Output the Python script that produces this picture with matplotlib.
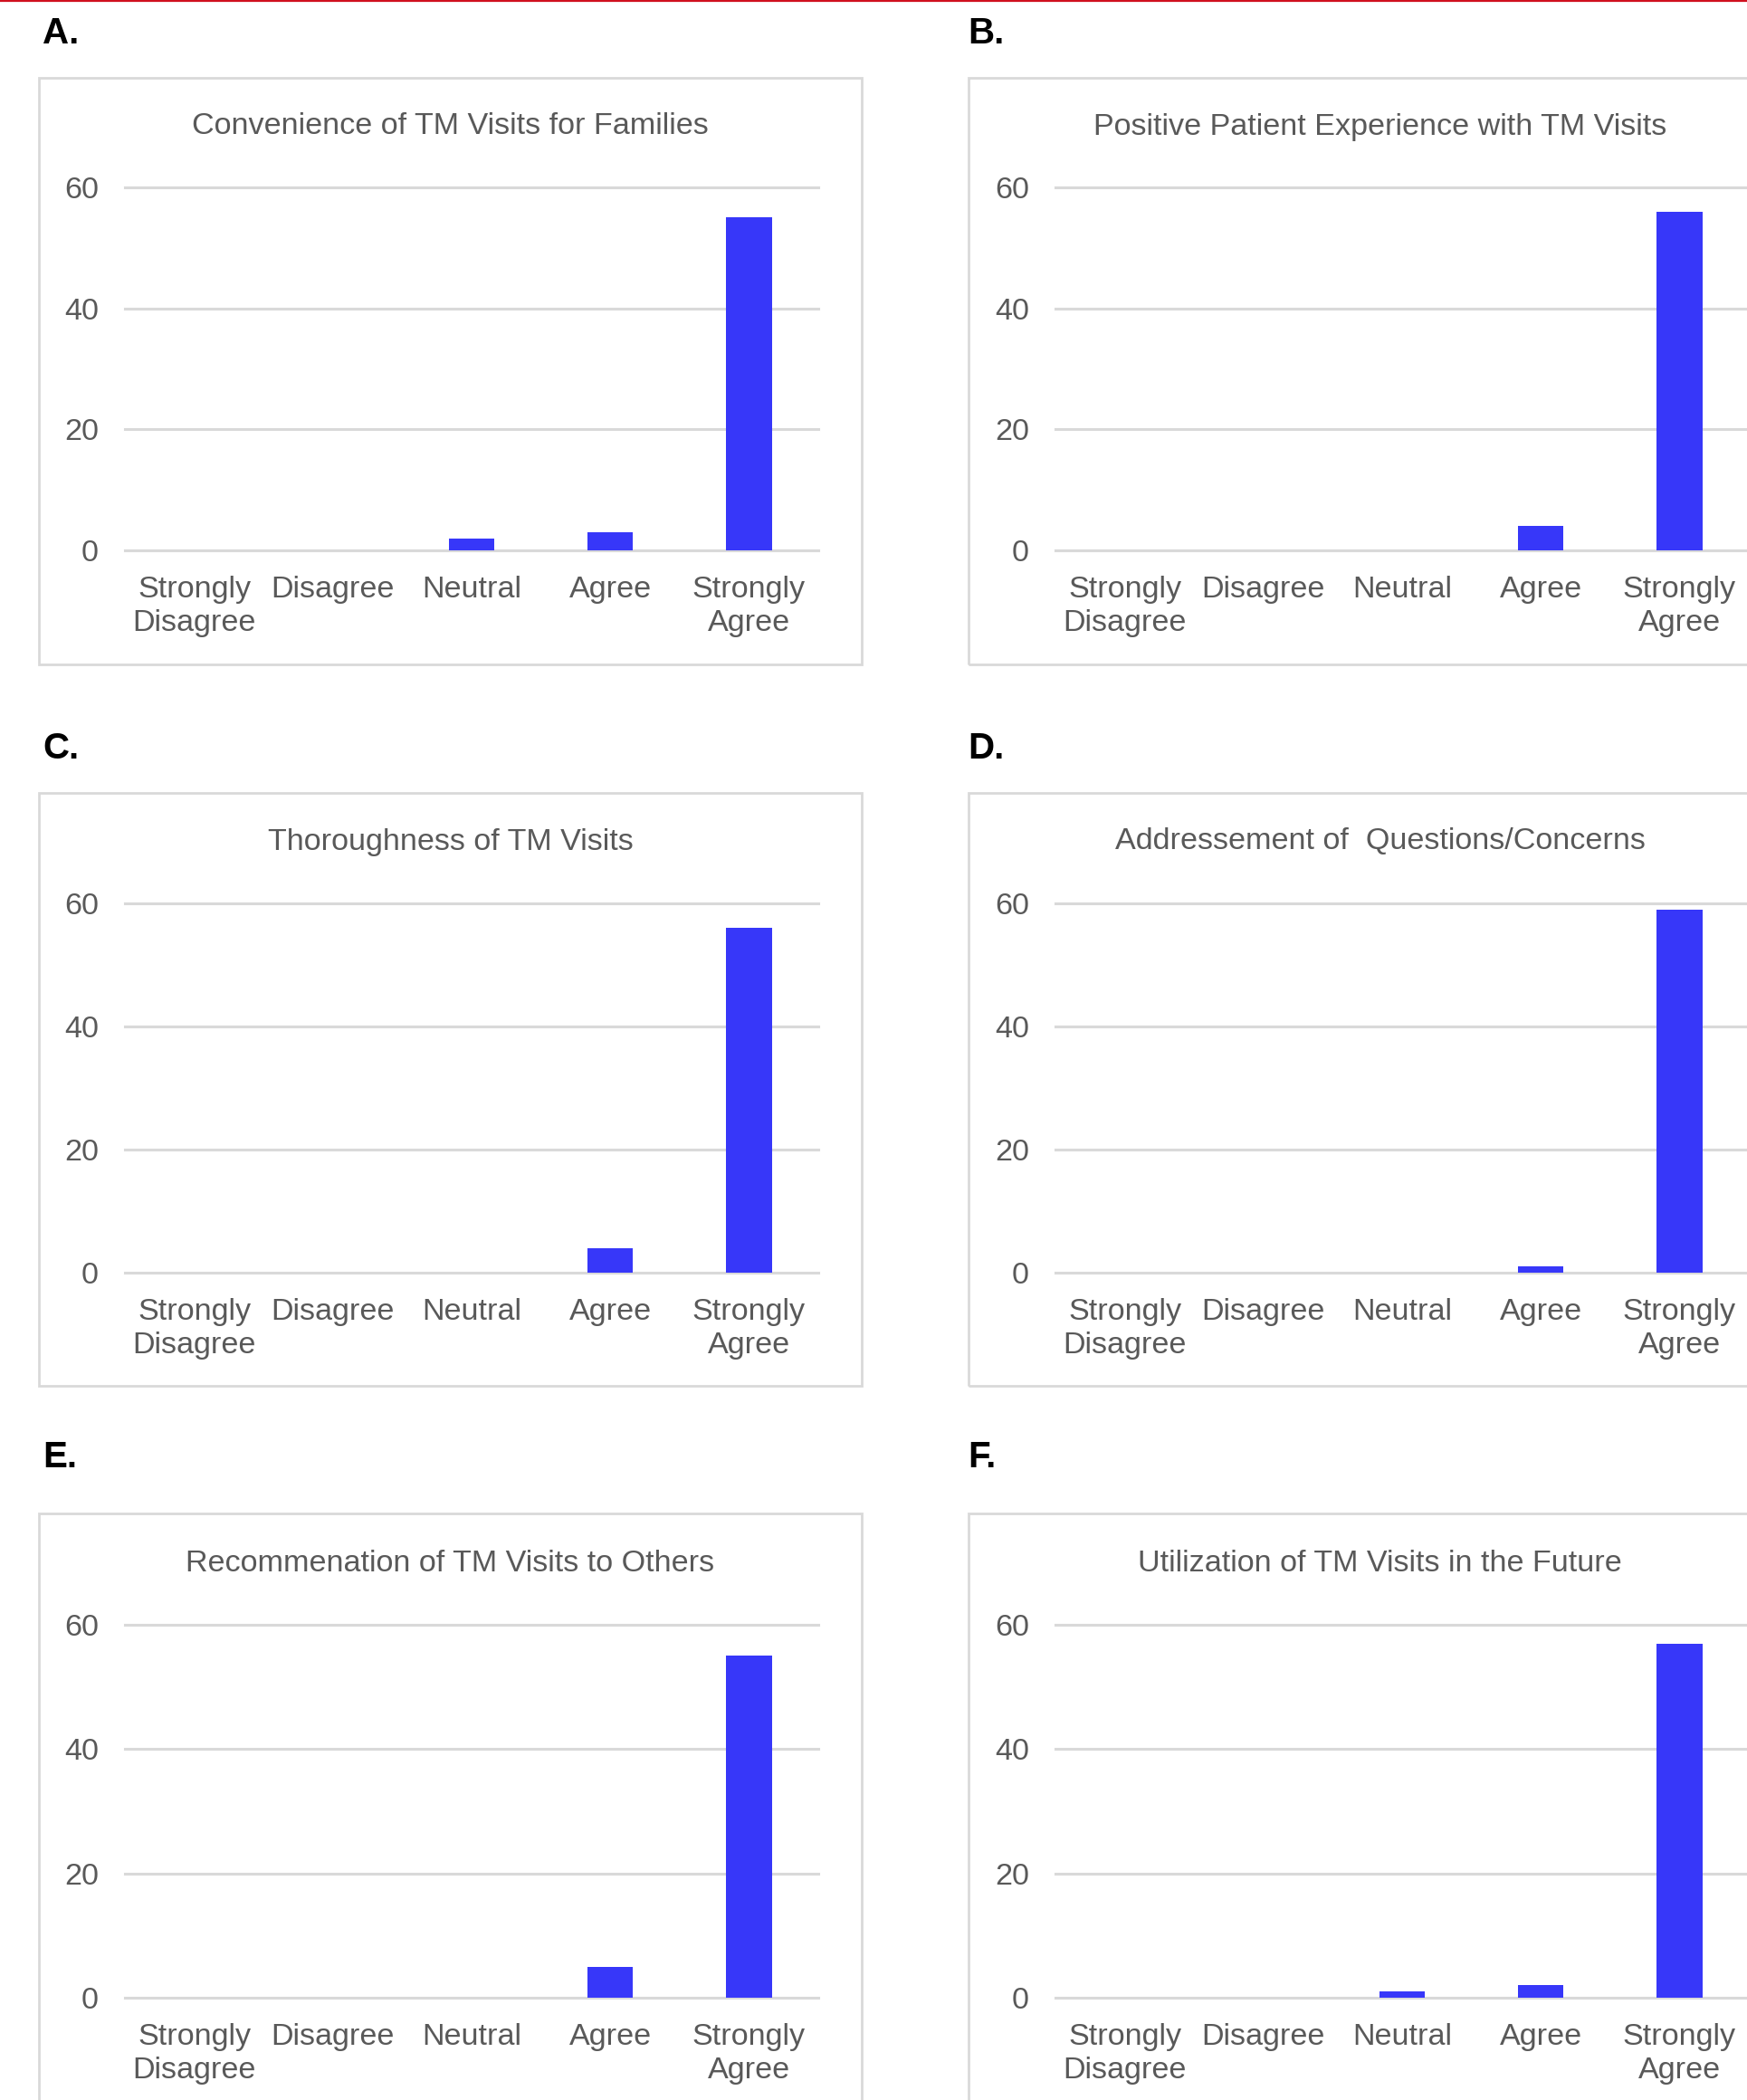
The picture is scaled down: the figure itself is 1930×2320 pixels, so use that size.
import matplotlib
matplotlib.use('Agg')
import matplotlib.pyplot as plt
from matplotlib.patches import Rectangle
from matplotlib.lines import Line2D

plt.rcParams['font.family'] = ['Liberation Sans', 'DejaVu Sans']

categories = ["Strongly\nDisagree", "Disagree", "Neutral", "Agree", "Strongly\nAgree"]
panel_letters = ["A.", "B.", "C.", "D.", "E.", "F."]
titles = [
    "Convenience of TM Visits for Families",
    "Positive Patient Experience with TM Visits",
    "Thoroughness of TM Visits",
    "Addressement of  Questions/Concerns",
    "Recommenation of TM Visits to Others",
    "Utilization of TM Visits in the Future",
]
convenience = [0, 0, 2, 3, 55]
positive_experience = [0, 0, 0, 4, 56]
thoroughness = [0, 0, 0, 4, 56]
questions_concerns = [0, 0, 0, 1, 59]
recommendation = [0, 0, 0, 5, 55]
future_use = [0, 0, 1, 2, 57]
y_ticks = [0, 20, 40, 60]

series = [convenience, positive_experience, thoroughness,
          questions_concerns, recommendation, future_use]

W, H = 1930, 2320
fig = plt.figure(figsize=(W / 100, H / 100), dpi=100)

def fx(x):
    return x / W

def fy(y):
    return 1 - y / H

BAR = '#3737F9'
GRID = '#D9D9D9'
TXT = '#595959'

# row geometry (pixels)
rows = [
    dict(label_y=37, box_t=86, box_b=734, title_y=140, y60=207, y0=608),
    dict(label_y=827, box_t=876, box_b=1531, title_y=930, y60=998, y0=1406),
    dict(label_y=1610, box_t=1672, box_b=2330, title_y=1728, y60=1795, y0=2207),
]
cols = [
    dict(label_x=47, box_l=43, box_r=952, pl=138, pr=904),
    dict(label_x=1069, box_l=1070, box_r=1979, pl=1166, pr=1932),
]

# red line at very top
fig.add_artist(Line2D([0, 1], [1 - 1 / H, 1 - 1 / H], transform=fig.transFigure,
                      color='#D0101E', lw=1.6))

for i, vals in enumerate(series):
    r = rows[i // 2]
    c = cols[i % 2]
    # outer box
    fig.patches.append(Rectangle((fx(c['box_l']), fy(r['box_b'])),
                                 (c['box_r'] - c['box_l']) / W,
                                 (r['box_b'] - r['box_t']) / H,
                                 transform=fig.transFigure, fill=False,
                                 edgecolor=GRID, lw=2.0))
    fig.text(fx(c['label_x']), fy(r['label_y']), panel_letters[i], fontsize=29,
             fontweight='bold', color='black', ha='left', va='center')
    fig.text(fx((c['box_l'] + c['box_r']) / 2), fy(r['title_y']), titles[i],
             fontsize=24.6, color=TXT, ha='center', va='center')

    ax = fig.add_axes([fx(c['pl']), fy(r['y0']), (c['pr'] - c['pl']) / W,
                       (r['y0'] - r['y60']) / H])
    ax.set_facecolor('none')
    x = list(range(len(categories)))
    ax.bar(x, vals, width=0.33, color=BAR, zorder=3)
    ax.set_xlim(-0.5, 4.5)
    ax.set_ylim(0, 60)
    ax.set_yticks(y_ticks)
    ax.set_xticks(x)
    ax.set_xticklabels(categories, linespacing=1.25)
    for s in ax.spines.values():
        s.set_visible(False)
    ax.yaxis.grid(True, color=GRID, lw=2.2)
    ax.set_axisbelow(True)
    for gl in ax.get_ygridlines():
        gl.set_clip_on(False)
    ax.tick_params(axis='both', length=0, labelsize=24.6, labelcolor=TXT)
    ax.tick_params(axis='y', pad=21)
    ax.tick_params(axis='x', pad=20)

fig.savefig('out.png', dpi=100, facecolor='white')
